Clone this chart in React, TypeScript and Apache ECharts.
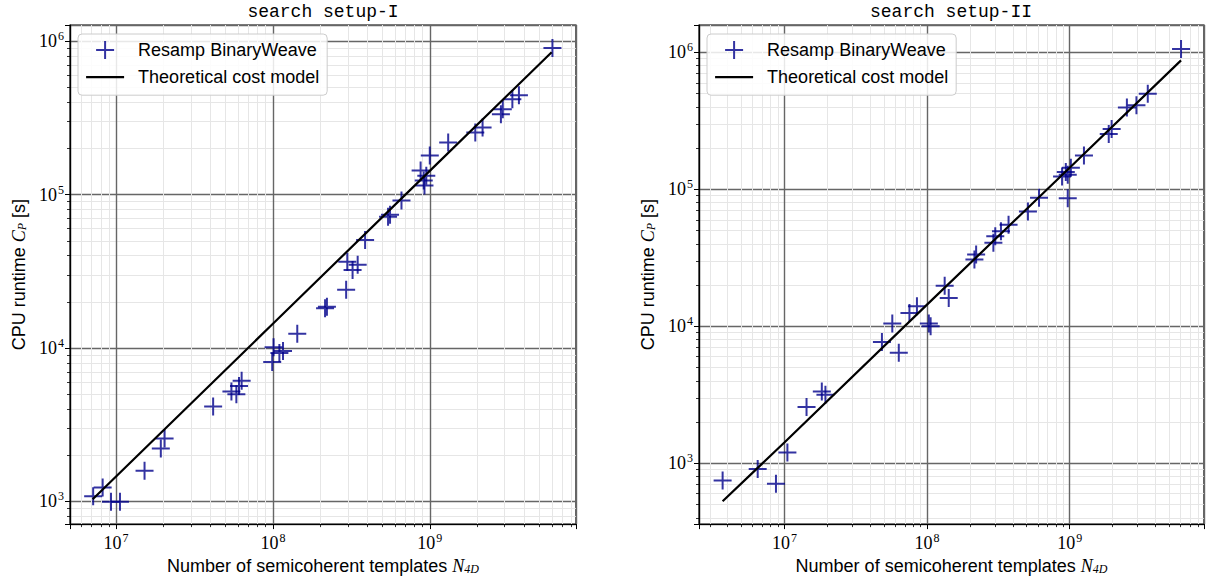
import React, { useEffect, useRef } from 'react';
import * as echarts from 'echarts';

// ---------- data: search setup-I ----------
const leftTemplates = [
  6.05e9, 3.7e9, 3.36e9, 2.92e9, 2.84e9, 2.17e9, 1.95e9, 1.31e9, 1.0e9, 8.74e8,
  9.5e8, 9.15e8, 9.25e8, 6.6e8, 5.58e8, 5.42e8, 3.87e8, 2.98e8, 3.47e8, 3.22e8,
  2.93e8, 2.21e8, 2.15e8, 1.43e8, 1.01e8, 1.16e8, 1.1e8, 9.9e7, 6.32e7, 6.08e7,
  5.44e7, 5.85e7, 4.16e7, 2.04e7, 1.93e7, 1.52e7, 8.22e6, 7.15e6, 9.29e6, 1.06e7,
];
const leftRuntime = [
  9.06e5, 4.45e5, 4.19e5, 3.61e5, 3.35e5, 2.74e5, 2.55e5, 2.19e5, 1.8e5, 1.44e5,
  1.33e5, 1.24e5, 1.15e5, 9.18e4, 7.41e4, 7.17e4, 5.06e4, 3.66e4, 3.49e4, 3.23e4,
  2.4e4, 1.86e4, 1.82e4, 1.24e4, 1.01e4, 9.57e3, 9.29e3, 8.11e3, 6.12e3, 5.65e3,
  5.2e3, 5.0e3, 4.16e3, 2.57e3, 2.21e3, 1.58e3, 1.23e3, 1.08e3, 995, 995,
];
const leftModelTemplates = [7.1e6, 1e8, 1e9, 5.98e9];
const leftModelRuntime = [1.03e3, 1.44e4, 1.43e5, 8.5e5];

// ---------- data: search setup-II ----------
const rightTemplates = [
  6.04e9, 3.53e9, 2.94e9, 2.52e9, 1.97e9, 1.88e9, 1.26e9, 1.02e9, 9.4e8, 8.85e8,
  9.7e8, 9.7e8, 6.1e8, 5.1e8, 3.73e8, 3.3e8, 3.01e8, 2.92e8, 2.21e8, 2.15e8,
  1.33e8, 1.42e8, 8.5e7, 7.53e7, 5.71e7, 1.03e8, 1.06e8, 4.83e7, 6.34e7, 1.83e7,
  1.94e7, 1.43e7, 1.05e7, 6.5e6, 3.69e6, 8.73e6,
];
const rightRuntime = [
  1.06e6, 5.0e5, 4.11e5, 3.96e5, 2.76e5, 2.54e5, 1.77e5, 1.44e5, 1.34e5, 1.24e5,
  1.28e5, 8.6e4, 8.7e4, 6.9e4, 5.52e4, 4.94e4, 4.55e4, 4.07e4, 3.35e4, 3.08e4,
  1.98e4, 1.61e4, 1.4e4, 1.25e4, 1.05e4, 1.05e4, 1.0e4, 7.7e3, 6.42e3, 3.35e3,
  3.17e3, 2.58e3, 1.2e3, 910, 750, 710,
];
const rightModelTemplates = [3.69e6, 1e7, 1e8, 1e9, 6.04e9];
const rightModelRuntime = [528, 1.42e3, 1.44e4, 1.44e5, 8.75e5];

const titles = ['search setup-I', 'search setup-II'];
const scatterName = 'Resamp BinaryWeave';
const modelName = 'Theoretical cost model';

const zip = (a: number[], b: number[]) => a.map((v, i) => [v, b[i]]);

const PLUS = 'path://M9,0L9,18M0,9L18,9';
const LINE_ICON = 'path://M0,0M0,9L38,9M38,18';
const MARK = '#00008B';

const fmt = (v: number) => {
  const l = Math.log10(v);
  const r = Math.round(l);
  if (Math.abs(l - r) > 1e-6) return '';
  return `{b|10}{s|${r}}`;
};
const labelRich = {
  b: { fontSize: 18, fontFamily: 'Liberation Serif', color: '#000', lineHeight: 22 },
  s: { fontSize: 12, fontFamily: 'Liberation Serif', color: '#000', verticalAlign: 'top', lineHeight: 22, padding: [0, 0, 8, 1] },
};
const nameRich = {
  i: { fontSize: 18, fontFamily: 'Liberation Serif', fontStyle: 'italic', color: '#000' },
  sub: { fontSize: 12, fontFamily: 'Liberation Serif', fontStyle: 'italic', color: '#000', verticalAlign: 'bottom', padding: [6, 0, 0, 0] },
};

function makeX(gridIndex: number, min: number, max: number) {
  return {
    type: 'log', logBase: 10, gridIndex, min, max,
    name: 'Number of semicoherent templates {i|N}{sub|4D}',
    nameLocation: 'middle', nameGap: 26,
    nameTextStyle: { fontSize: 18, fontFamily: 'Liberation Sans', color: '#000', rich: nameRich },
    axisLine: { show: true, lineStyle: { color: '#000', width: 1.2 } },
    axisTick: { show: true, length: 5, lineStyle: { color: '#000', width: 1 } },
    minorTick: { show: true, splitNumber: 9, length: 3, lineStyle: { color: '#000', width: 0.8 } },
    axisLabel: { formatter: fmt, rich: labelRich, margin: 8, color: '#000' },
    splitLine: { show: true, lineStyle: { color: '#666666', width: 1.4 } },
    minorSplitLine: { show: true, lineStyle: { color: '#e6e6e6', width: 1 } },
  };
}
function makeY(gridIndex: number, min: number, max: number) {
  return {
    type: 'log', logBase: 10, gridIndex, min, max,
    name: 'CPU runtime {i|C}{sub|P} [s]',
    nameLocation: 'middle', nameGap: 42, nameRotate: 90,
    nameTextStyle: { fontSize: 18, fontFamily: 'Liberation Sans', color: '#000', rich: nameRich },
    axisLine: { show: true, lineStyle: { color: '#000', width: 1.2 } },
    axisTick: { show: true, length: 5, lineStyle: { color: '#000', width: 1 } },
    minorTick: { show: true, splitNumber: 9, length: 3, lineStyle: { color: '#000', width: 0.8 } },
    axisLabel: { formatter: fmt, rich: labelRich, margin: 6, color: '#000' },
    splitLine: { show: true, lineStyle: { color: '#666666', width: 1.4 } },
    minorSplitLine: { show: true, lineStyle: { color: '#e6e6e6', width: 1 } },
  };
}

function makeLegend(left: number) {
  return {
    left, top: 34, orient: 'vertical',
    data: [
      { name: scatterName, icon: PLUS, itemStyle: { color: 'rgba(0,0,0,0)', borderColor: MARK, borderWidth: 2 } },
      { name: modelName, icon: LINE_ICON, itemStyle: { color: 'rgba(0,0,0,0)', borderColor: '#000', borderWidth: 2.2 } },
    ],
    itemWidth: 38, itemHeight: 18, itemGap: 7,
    padding: [6, 8, 8, 7],
    backgroundColor: 'rgba(255,255,255,0.85)',
    borderColor: '#cccccc', borderWidth: 1, borderRadius: 4,
    textStyle: { fontSize: 18, fontFamily: 'Liberation Sans', color: '#000', padding: [0, 0, 0, 9] },
    selectedMode: false,
  };
}

export default function App() {
  const ref = useRef<HTMLDivElement>(null);
  useEffect(() => {
    const chart = echarts.init(ref.current!, null, { renderer: 'svg' });
    const scatter = (i: number, data: number[][]) => ({
      name: scatterName, type: 'scatter', xAxisIndex: i, yAxisIndex: i, data,
      symbol: PLUS, symbolSize: 18,
      itemStyle: { color: 'rgba(0,0,0,0)', borderColor: MARK, borderWidth: 2 },
      z: 2,
    });
    const model = (i: number, data: number[][]) => ({
      name: modelName, type: 'line', xAxisIndex: i, yAxisIndex: i, data,
      symbol: 'none', showSymbol: false,
      lineStyle: { color: '#000', width: 2.2 },
      itemStyle: { color: '#000' },
      z: 3,
    });
    const option = {
      animation: false,
      backgroundColor: '#fff',
      graphic: [
        { type: 'text', x: 323, y: 12, style: { text: titles[0], font: '18px "Liberation Mono"', fill: '#000', align: 'center', verticalAlign: 'middle' } },
        { type: 'text', x: 951, y: 12, style: { text: titles[1], font: '18px "Liberation Mono"', fill: '#000', align: 'center', verticalAlign: 'middle' } },
      ],
      grid: [
        { left: 70, top: 25, width: 506, height: 504, show: true, borderColor: '#000', borderWidth: 1.2, backgroundColor: 'transparent' },
        { left: 699, top: 25, width: 505, height: 504, show: true, borderColor: '#000', borderWidth: 1.2, backgroundColor: 'transparent' },
      ],
      xAxis: [makeX(0, 5.09e6, 8.55e9), makeX(1, 2.52e6, 8.75e9)],
      yAxis: [makeY(0, 710, 1.28e6), makeY(1, 360, 1.585e6)],
      legend: [makeLegend(78), makeLegend(707)],
      series: [
        scatter(0, zip(leftTemplates, leftRuntime)),
        model(0, zip(leftModelTemplates, leftModelRuntime)),
        scatter(1, zip(rightTemplates, rightRuntime)),
        model(1, zip(rightModelTemplates, rightModelRuntime)),
      ],
    };
    chart.setOption(option as any);
    return () => chart.dispose();
  }, []);
  return <div ref={ref} style={{ position: 'absolute', left: 0, top: 0, width: 1208, height: 580 }} />;
}
